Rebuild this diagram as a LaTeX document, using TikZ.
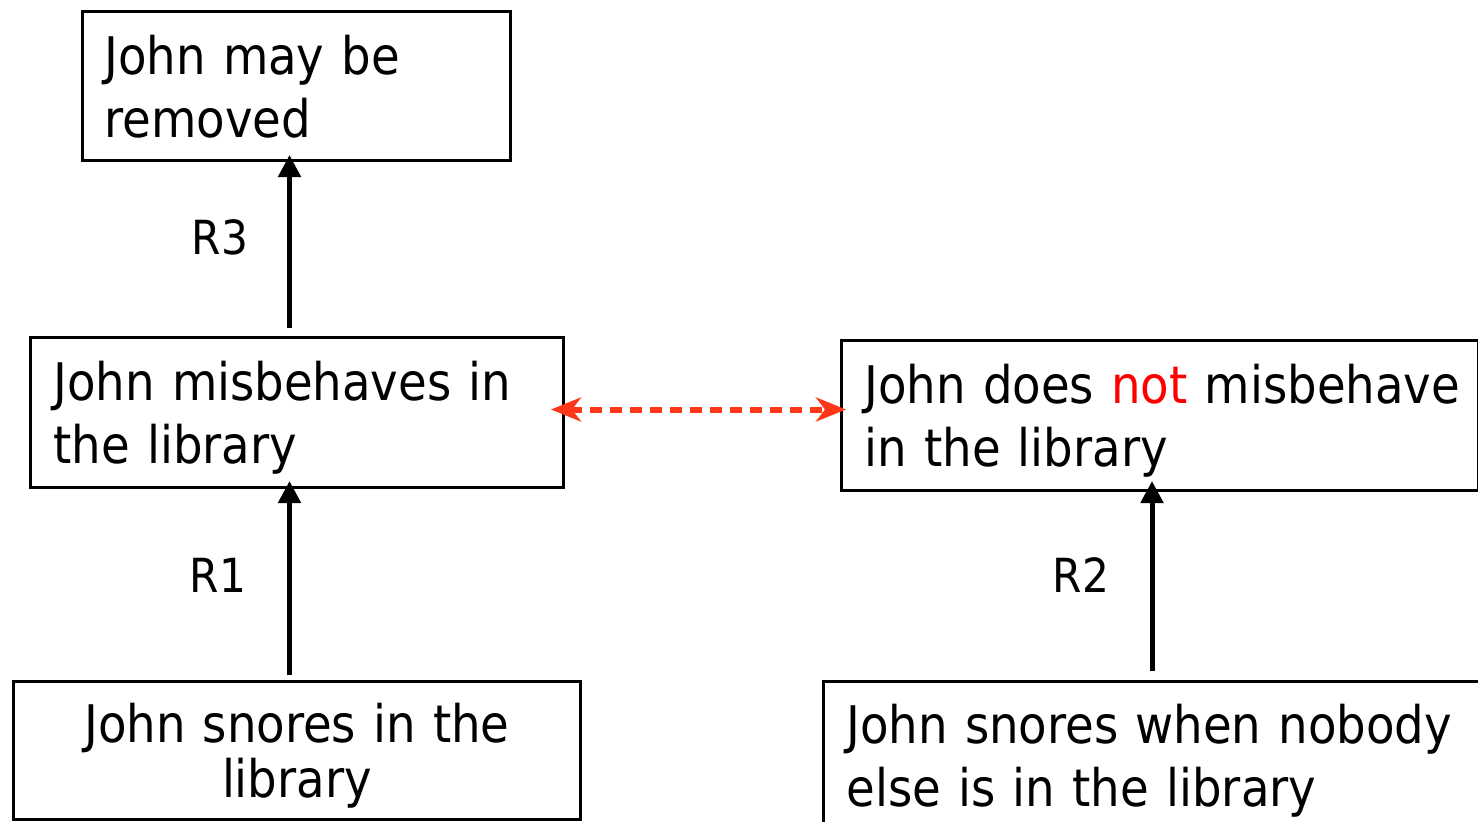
\documentclass[tikz,border=0pt]{standalone}
\usepackage{fontspec}
\setmainfont{DejaVu Sans Condensed}
\usetikzlibrary{arrows.meta,calc}
\definecolor{dashred}{RGB}{255,55,25}
\definecolor{notred}{RGB}{255,0,0}
\begin{document}
\begin{tikzpicture}[x=1pt,y=-1pt,
  box/.style={draw,line width=3pt,anchor=north west,inner ysep=0pt,
    text height=39pt,text depth=63pt,
    font=\fontsize{51.8}{63}\selectfont},
  lbox/.style={box,align=left,inner xsep=23pt},
  arr/.style={line width=5pt,-{Triangle[length=22pt,width=22pt]}},
  reddash/.style={draw=dashred,line width=6pt,dash pattern=on 12pt off 8pt,
    {Stealth[length=30pt,width=24pt,inset=9pt]}-{Stealth[length=30pt,width=24pt,inset=9pt]}},
  lab/.style={font=\fontsize{47}{56}\selectfont},
]
\useasboundingbox (0,0) rectangle (1478,822);

\node[lbox,inner xsep=22pt,text width=384pt,minimum height=149pt] (rem) at (81,10)
  {\mbox{John may be}\\\mbox{removed}};
\node[lbox,text width=487pt,minimum height=150pt] (mis) at (29,336)
  {\mbox{John misbehaves in}\\\mbox{the library}};
\node[lbox,text width=591pt,minimum height=150pt] (not) at (840,339)
  {\mbox{John does \textcolor{notred}{not} misbehave}\\\mbox{in the library}};
\node[box,align=center,inner xsep=10pt,text width=547pt,minimum height=138pt,
  text depth=55pt,font=\fontsize{51.8}{55}\selectfont] (sno) at (12,680)
  {\mbox{John snores in the}\\\mbox{library}};
\node[lbox,text width=634pt,minimum height=147pt] (nob) at (822,680)
  {\mbox{John snores when nobody}\\\mbox{else is in the library}};

\draw[arr,shorten <=8pt,shorten >=-7pt] ([xshift=-7.5pt]mis.north) -- ([xshift=-7pt]rem.south);
\draw[arr,shorten <=5pt,shorten >=-8pt] ([xshift=-7.5pt]sno.north) -- ([xshift=-7.5pt]mis.south);
\draw[arr,shorten <=9pt,shorten >=-11pt] (nob.north -| 1152,0) -- (not.south -| 1152,0);

\draw[reddash,shorten <=-14pt,shorten >=-6pt] ([yshift=3pt]mis.east) -- ([yshift=6pt]not.west);

\node[lab] (r3) at (220,237) {R3};
\node[lab] (r1) at (218,575) {R1};
\node[lab] (r2) at (1081,575) {R2};
\end{tikzpicture}
\end{document}
